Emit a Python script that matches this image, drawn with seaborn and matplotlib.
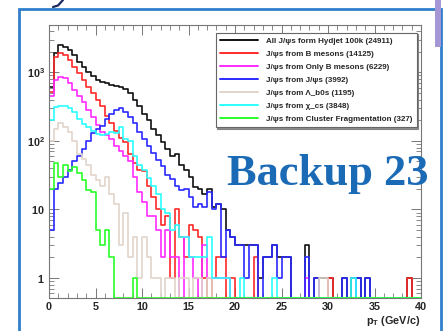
import numpy as np
import pandas as pd
import matplotlib
matplotlib.use("Agg")
import matplotlib.pyplot as plt
import seaborn as sns
from matplotlib.patches import Rectangle
from matplotlib.lines import Line2D
from matplotlib.ticker import MultipleLocator, LogLocator, NullFormatter, FixedLocator, FixedFormatter

# ---------------- data (0.5 GeV/c bins, pT 0-40) ----------------
bin_width = 0.5
n_bins = 80
pt_min = 0.0

all_jpsi = [620, 1900, 2500, 2350, 2150, 1800, 1420, 1200, 1020, 880,
            780, 730, 700, 660, 640, 620, 580, 500, 400, 320,
            250, 200, 150, 120, 95, 75, 60, 65, 45, 38,
            30, 21, 20, 17, 20, 11, 12, 10, 5, 4,
            3, 3, 3, 3, 3, 1, 2, 2, 3, 2,
            2, 2, 0, 0, 0, 3, 0, 1, 1, 1,
            1, 0, 0, 1, 0, 1, 1, 0, 1, 0,
            0, 0, 0, 0, 0, 0, 0, 1, 0, 0]

from_b = [520, 1700, 1900, 1800, 1500, 1200, 980, 780, 620, 500,
          400, 320, 230, 180, 140, 110, 95, 65, 48, 38,
          36, 22, 15, 10, 6, 8, 1, 10, 4, 2,
          6, 5, 4, 1, 0, 1, 2, 2, 0, 1,
          0, 0, 0, 0, 2, 0, 0, 0, 0, 0,
          0, 0, 0, 0, 0, 0, 0, 0, 0, 0,
          1, 0, 0, 0, 0, 0, 0, 0, 0, 0,
          0, 0, 0, 0, 0, 0, 0, 1, 0, 0]

only_b = [450, 780, 860, 840, 700, 560, 450, 370, 280, 220,
          170, 135, 120, 105, 85, 70, 60, 50, 30, 18,
          13, 8, 8, 5, 2, 5, 2, 2, 0, 4,
          2, 1, 0, 3, 1, 1, 1, 1, 1, 0,
          0, 0, 0, 0, 0, 0, 0, 0, 0, 0,
          0, 0, 0, 0, 0, 1, 0, 0, 0, 0,
          0, 0, 0, 0, 0, 0, 0, 0, 0, 0,
          0, 0, 0, 0, 0, 0, 0, 0, 0, 0]

from_jpsi = [5, 20, 24, 30, 38, 50, 60, 75, 100, 130,
             150, 165, 205, 250, 285, 300, 265, 225, 180, 135,
             105, 85, 67, 52, 43, 32, 28, 22, 19, 20,
             15, 11, 12, 11, 18, 10, 12, 2, 5, 4,
             3, 3, 1, 3, 3, 0, 2, 2, 3, 1,
             2, 2, 0, 0, 0, 2, 0, 1, 0, 0,
             0, 0, 0, 1, 0, 0, 1, 0, 1, 0,
             0, 0, 0, 0, 0, 0, 0, 0, 0, 0]

from_lambda_b = [100, 150, 185, 160, 135, 100, 65, 55, 45, 32,
                 27, 22, 30, 17, 12, 3, 9, 2, 4, 1,
                 4, 2, 1, 1, 0, 1, 1, 0, 1, 1,
                 0, 1, 1, 0, 1, 0, 0, 0, 0, 0,
                 0, 0, 0, 0, 0, 0, 0, 0, 0, 0,
                 0, 0, 0, 0, 0, 0, 0, 0, 1, 1,
                 0, 0, 0, 0, 0, 0, 0, 0, 0, 0,
                 0, 0, 0, 0, 0, 0, 0, 0, 0, 0]

from_chi_c = [200, 310, 320, 320, 300, 260, 210, 175, 160, 140,
              125, 120, 125, 135, 130, 160, 105, 100, 60, 45,
              38, 29, 22, 17, 10, 9, 5, 6, 4, 4,
              2, 2, 2, 2, 4, 1, 1, 1, 1, 0,
              0, 1, 0, 0, 0, 0, 0, 0, 1, 0,
              0, 0, 0, 0, 0, 0, 0, 0, 0, 0,
              0, 0, 0, 0, 0, 1, 0, 0, 0, 0,
              0, 0, 0, 0, 0, 0, 0, 0, 0, 0]

from_cluster = [20, 48, 30, 45, 36, 42, 34, 27, 19, 18,
                5, 3, 5, 2, 0, 0, 0, 0, 1, 0,
                0, 0, 0, 0, 0, 0, 0, 0, 0, 0,
                0, 0, 0, 0, 0, 0, 0, 0, 0, 0,
                0, 0, 0, 0, 0, 0, 0, 0, 0, 0,
                0, 0, 0, 0, 0, 0, 0, 0, 0, 0,
                0, 0, 0, 0, 0, 0, 0, 0, 0, 0,
                0, 0, 0, 0, 0, 0, 0, 0, 0, 0]

legend_labels = ["All J/\u03c8s form Hydjet 100k (24911)",
                 "J/\u03c8s from B mesons (14125)",
                 "J/\u03c8s from Only B mesons (6229)",
                 "J/\u03c8s from J/\u03c8s (3992)",
                 "J/\u03c8s from \u039b_b0s (1195)",
                 "J/\u03c8s from \u03c7_cs (3848)",
                 "J/\u03c8s from Cluster Fragmentation (327)"]

x_ticks = [0, 5, 10, 15, 20, 25, 30, 35, 40]
y_ticks = [1, 10, 100, 1000]
y_tick_labels = [r"$\mathbf{1}$", r"$\mathbf{10}$", r"$\mathbf{10^{2}}$", r"$\mathbf{10^{3}}$"]

series = [all_jpsi, from_b, only_b, from_jpsi, from_lambda_b, from_chi_c, from_cluster]
colors = ["#111111", "#ff2a2a", "#ff2aff", "#2a2aff", "#e2d4cb", "#2affff", "#2aff2a"]

# ---------------- style ----------------
sns.set_style("ticks")
plt.rcParams["font.family"] = ["Liberation Sans", "DejaVu Sans"]
plt.rcParams["mathtext.fontset"] = "custom"
plt.rcParams["mathtext.rm"] = "Liberation Sans"
plt.rcParams["mathtext.bf"] = "Liberation Sans:bold"
plt.rcParams["mathtext.it"] = "Liberation Sans:italic"

W, H = 445, 331
fig = plt.figure(figsize=(W / 100, H / 100), dpi=100)
fig.patch.set_facecolor("white")
ax = fig.add_axes([49 / W, 1 - 298 / H, (421 - 49) / W, (298 - 25) / H])
ax.set_facecolor("white")

edges = pt_min + bin_width * np.arange(n_bins + 1)
centers = edges[:-1] + bin_width / 2
y_floor = 0.51  # empty bins are drawn on the frame bottom (ROOT style)

for vals, col in zip(series, colors):
    df = pd.DataFrame({"pt": centers,
                       "w": np.maximum(np.asarray(vals, dtype=float), y_floor)})
    sns.histplot(data=df, x="pt", weights="w", binwidth=bin_width,
                 binrange=(edges[0], edges[-1]), element="step", fill=False,
                 color=col, linewidth=1.2, ax=ax)

ax.set_yscale("log")
ax.set_xlim(0, 40)
ax.set_ylim(y_floor, 4900)
ax.set_xlabel("")
ax.set_ylabel("")

ax.xaxis.set_major_locator(FixedLocator(x_ticks))
ax.xaxis.set_minor_locator(MultipleLocator(1))
ax.yaxis.set_major_locator(FixedLocator(y_ticks))
ax.yaxis.set_major_formatter(FixedFormatter(y_tick_labels))
ax.yaxis.set_minor_locator(LogLocator(base=10, subs=np.arange(2, 10), numticks=20))
ax.yaxis.set_minor_formatter(NullFormatter())

ax.tick_params(which="major", direction="in", length=7, width=0.7, color="#777777",
               top=True, right=True, labelsize=7.8, pad=3)
ax.tick_params(which="minor", direction="in", length=3.5, width=0.6, color="#777777",
               top=True, right=True)
for lbl in ax.get_xticklabels():
    lbl.set_fontweight("bold")
for sp in ax.spines.values():
    sp.set_color("#777777")
    sp.set_linewidth(0.8)

# legend
handles = [Line2D([], [], color=c, lw=1.4) for c in colors]
leg = ax.legend(handles, legend_labels, loc="upper right",
                bbox_to_anchor=((416.7 - 49) / 372, 1 - (32.7 - 25) / 273),
                prop={"size": 5.8, "weight": "bold"}, handlelength=4.7,
                handletextpad=1.0, labelspacing=0.66, borderpad=0.55,
                borderaxespad=0, frameon=True, fancybox=False, framealpha=1,
                edgecolor="#666666", shadow={"color": "0.45", "alpha": 0.8, "ox": 1.2, "oy": -1.2})
leg.get_frame().set_linewidth(0.8)

# x label
fig.text(420 / W, 1 - 321 / H, r"p$_{\mathbf{T}}$ (GeV/c)", ha="right", va="center",
         fontsize=7.8, fontweight="bold")

# slide decorations
fig.add_artist(Rectangle((18.5 / W, -0.05), (440.5 - 18.5) / W, 0.05 + 1 - 9 / H,
                         transform=fig.transFigure, fill=False, edgecolor="#2f7fcc",
                         linewidth=2.0, zorder=0.5))
fig.add_artist(Rectangle((435 / W, 1 - 47 / H), 6 / W, 47 / H, transform=fig.transFigure,
                         facecolor="#a596d6", edgecolor="none", zorder=0.6))
fig.add_artist(Line2D(np.array([53, 58, 63]) / W, 1 - np.array([7, 5.5, 0]) / H,
                      transform=fig.transFigure, color="#1c2b5e", lw=1.6))

fig.text(227 / W, 1 - 185 / H, "Backup 23", ha="left", va="baseline", fontsize=32,
         family="Liberation Serif", fontweight="bold", color="#1b6ab5", zorder=5)

fig.savefig("out.png", dpi=100, facecolor="white")
